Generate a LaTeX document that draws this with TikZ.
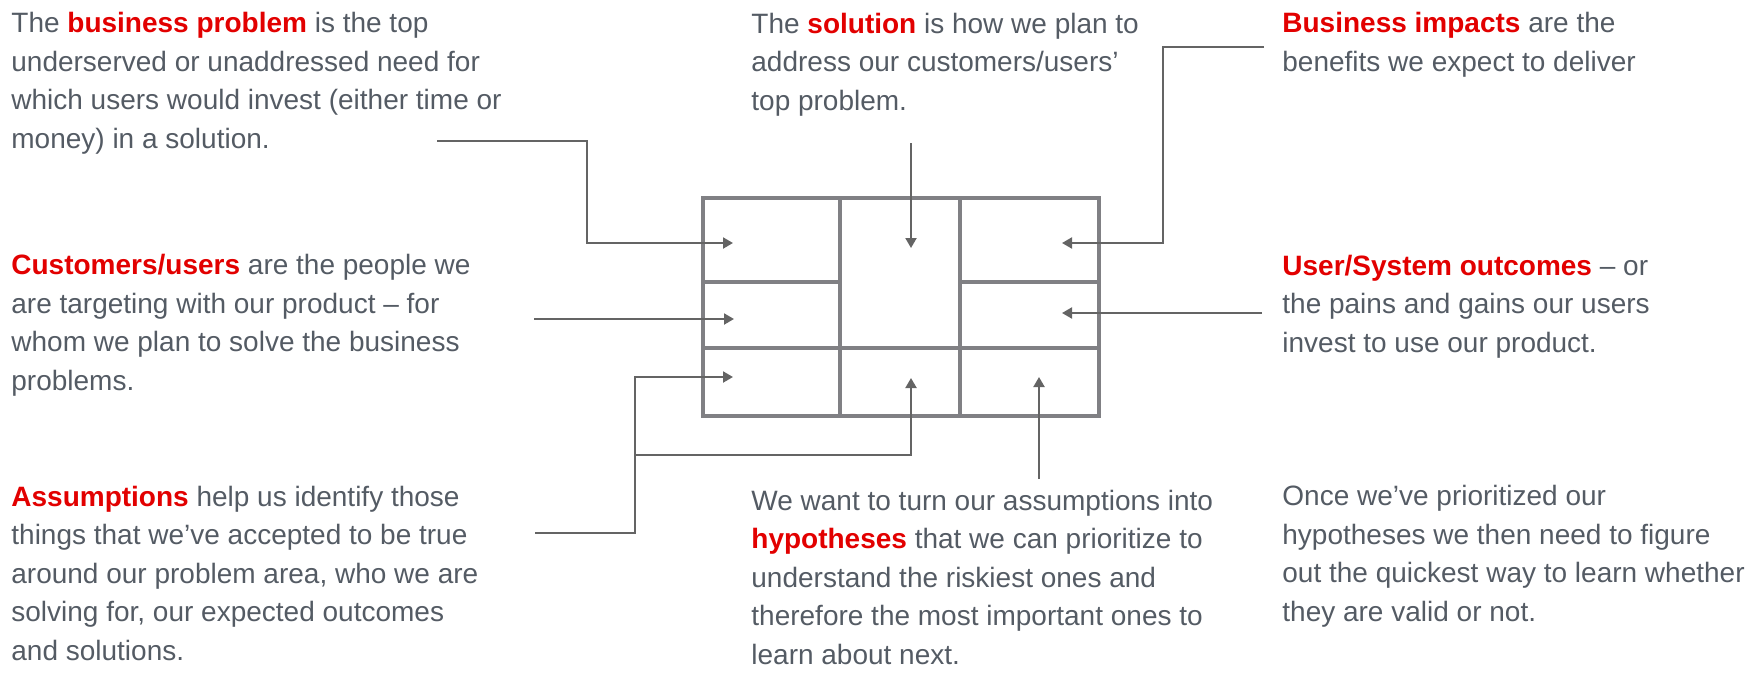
\documentclass[tikz,border=0pt]{standalone}
\usepackage{fontspec}
\setmainfont{Liberation Sans}
\usepackage{xcolor}
\usetikzlibrary{arrows.meta,positioning,calc}

\definecolor{txtgray}{RGB}{84,91,100}
\definecolor{hlred}{RGB}{226,0,0}
\definecolor{gridgray}{RGB}{128,128,132}
\definecolor{linegray}{RGB}{100,100,100}
\newcommand{\hl}[1]{\textbf{\color{hlred}#1}}

\begin{document}
\begin{tikzpicture}[x=0.5pt, y=-0.5pt,
    txt/.style={anchor=base west, align=left, inner sep=0pt, text=txtgray, font=\fontsize{14}{19.2}\selectfont},
    cell/.style={rectangle, draw=gridgray, line width=2pt, inner sep=0pt},
    conn/.style={draw=linegray, line width=1pt, -{Triangle[length=5pt, width=5.5pt]}}]

    \useasboundingbox (0,0) rectangle (1756,680);

    % canvas cells
    \node[cell, minimum width=68.5pt, minimum height=42pt] (c1) at (771.5,240) {};
    \node[cell, minimum width=68.5pt, minimum height=33pt] (c2) at (771.5,315) {};
    \node[cell, minimum width=68.5pt, minimum height=34pt] (c3) at (771.5,382) {};
    \node[cell, minimum width=60pt, minimum height=75pt] (m1) at (900,273) {};
    \node[cell, minimum width=60pt, minimum height=34pt] (m2) at (900,382) {};
    \node[cell, minimum width=69.5pt, minimum height=42pt] (r1) at (1029.5,240) {};
    \node[cell, minimum width=69.5pt, minimum height=33pt] (r2) at (1029.5,315) {};
    \node[cell, minimum width=69.5pt, minimum height=34pt] (r3) at (1029.5,382) {};

    % texts (anchored at the baseline of their last line)
    \node[txt] (prob) at (11,148) {The \hl{business problem} is the top\\underserved or unaddressed need for\\which users would invest (either time or\\money) in a solution.};
    \node[txt] (sol) at (751,110) {The \hl{solution} is how we plan to\\address our customers/users’\\top problem.};
    \node[txt] (imp) at (1282,71) {\hl{Business impacts} are the\\benefits we expect to deliver};
    \node[txt] (cust) at (11,390) {\hl{Customers/users} are the people we\\are targeting with our product – for\\whom we plan to solve the business\\problems.};
    \node[txt] (outc) at (1282,352) {\hl{User/System outcomes} – or\\the pains and gains our users\\invest to use our product.};
    \node[txt] (assm) at (11,660) {\hl{Assumptions} help us identify those\\things that we’ve accepted to be true\\around our problem area, who we are\\solving for, our expected outcomes\\and solutions.};
    \node[txt] (hypo) at (751,664) {We want to turn our assumptions into\\\hl{hypotheses} that we can prioritize to\\understand the riskiest ones and\\therefore the most important ones to\\learn about next.};
    \node[txt] (once) at (1282,621) {Once we’ve prioritized our\\hypotheses we then need to figure\\out the quickest way to learn whether\\they are valid or not.};

    % connector ends
    \coordinate (probS) at (437,141);
    \coordinate (probT) at (733,243);
    \coordinate (custS) at (534,319);
    \coordinate (custT) at (734,319);
    \coordinate (assmS) at (535,533);
    \coordinate (assmT) at (733,377);
    \coordinate (assmB) at (635,455);
    \coordinate (m2T) at (911,378);
    \coordinate (solS) at (911,143);
    \coordinate (solT) at (911,248);
    \coordinate (impS) at (1264,47);
    \coordinate (impT) at (1062,243);
    \coordinate (outcS) at (1262,313);
    \coordinate (outcT) at (1062,313);
    \coordinate (hypoS) at (1039,479);
    \coordinate (hypoT) at (1039,377);

    \draw[conn] (probS) -- ++(150,0) |- (probT);
    \draw[conn] (custS) -- (custT);
    \draw[conn] (assmS) -- ++(100,0) |- (assmT);
    \draw[conn] (assmB) -| (m2T);
    \draw[conn] (solS) -- (solT);
    \draw[conn] (impS) -- ++(-101,0) |- (impT);
    \draw[conn] (outcS) -- (outcT);
    \draw[conn] (hypoS) -- (hypoT);
\end{tikzpicture}
\end{document}
